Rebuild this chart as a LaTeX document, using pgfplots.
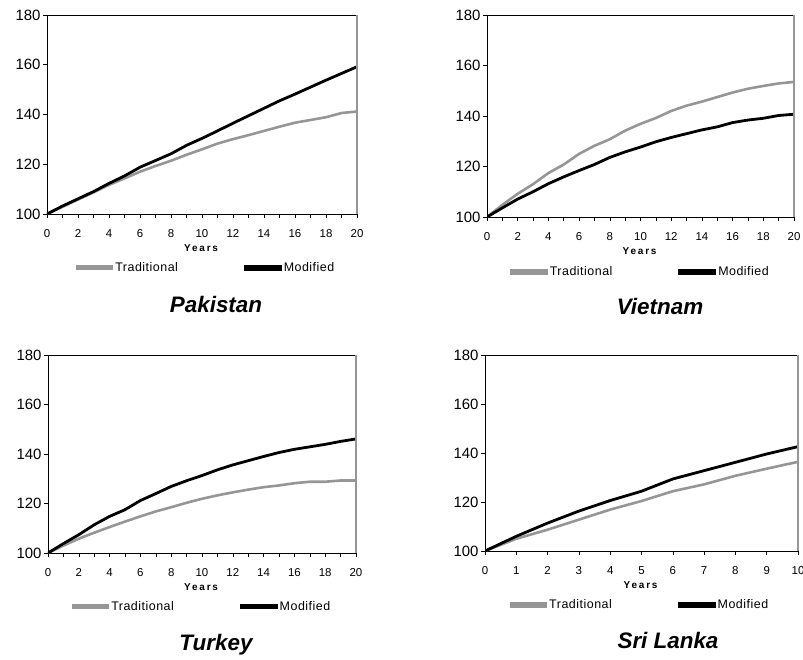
\documentclass[border=0pt]{standalone}
\usepackage{fontspec}
\setmainfont{Liberation Sans}
\usepackage{pgfplots}
\pgfplotsset{compat=1.18}

\definecolor{tradgray}{RGB}{150,150,150}

\pgfplotsset{
  panel/.style={
    scale only axis,
    width=310bp, height=199bp,
    xmin=0, xmax=20, ymin=100, ymax=180,
    ytick={100,120,...,180},
    xtick={0,2,...,20},
    minor xtick={1,3,...,19},
    tick align=outside,
    major tick length=4bp, minor tick length=4bp,
    tick style={black, line width=0.6bp},
    axis line style={line width=0.8bp},
    axis x line*=bottom, axis y line*=left,
    /pgf/number format/assume math mode=true,
    yticklabel style={font=\fontsize{15}{15}\selectfont, xshift=1bp},
    xticklabel style={font=\fontsize{11.5}{11.5}\selectfont, yshift=-8bp},
    xlabel={\addfontfeature{LetterSpace=18}\textbf{Years}},
    xlabel style={font=\fontsize{10}{10}\selectfont, at={(axis description cs:0.5,0)}, anchor=center, yshift=-34bp},
    legend columns=2,
    legend style={draw=none, fill=none, font=\fontsize{12.5}{12.5}\selectfont\addfontfeature{LetterSpace=4},
      /tikz/every even column/.append style={column sep=64bp},
      /tikz/inner sep=0pt},
    after end axis/.code={
      \draw[black, line width=0.8bp] (rel axis cs:0,1) -- (rel axis cs:1,1);
      \draw[tradgray, line width=2bp] (rel axis cs:1,1) -- (rel axis cs:1,0);
    },
  },
  trad/.style={tradgray, line width=2.6bp, no marks,
    legend image code/.code={\fill[tradgray] (0bp,-1.4bp) rectangle (35bp,1.4bp);}},
  modi/.style={black, line width=2.8bp, no marks,
    legend image code/.code={\fill[black] (0bp,-1.5bp) rectangle (35bp,1.5bp);}},
}

\begin{document}
\begin{tikzpicture}
\path[use as bounding box] (0,0) rectangle (803bp,-660bp);

% Pakistan
\begin{axis}[panel, at={(47bp,-214bp)}, anchor=south west,
  legend style={at={(0.513,-0.27)}, anchor=center}]
\addplot[trad] coordinates {
 (0,100) (1,102.9) (2,105.8) (3,108.7) (4,111.7) (5,114.3) (6,117.0) (7,119.3)
 (8,121.4) (9,123.8) (10,126.0) (11,128.3) (12,130.1) (13,131.7) (14,133.4)
 (15,135.1) (16,136.7) (17,137.8) (18,138.9) (19,140.6) (20,141.2)};
\addlegendentry{Traditional}
\addplot[modi] coordinates {
 (0,100) (1,103.2) (2,106.1) (3,109.0) (4,112.3) (5,115.3) (6,118.8) (7,121.5)
 (8,124.2) (9,127.6) (10,130.4) (11,133.4) (12,136.5) (13,139.5) (14,142.5)
 (15,145.5) (16,148.2) (17,151.0) (18,153.8) (19,156.5) (20,159.2)};
\addlegendentry{Modified}
\end{axis}

% Vietnam
\begin{axis}[panel, at={(487bp,-217bp)}, anchor=south west, width=307bp, height=202bp,
  legend style={at={(0.50,-0.272)}, anchor=center}]
\addplot[trad] coordinates {
 (0,100) (1,104.8) (2,109.2) (3,113.0) (4,117.4) (5,120.8) (6,125.0) (7,128.2)
 (8,130.8) (9,134.2) (10,136.9) (11,139.2) (12,142.0) (13,144.1) (14,145.7)
 (15,147.5) (16,149.3) (17,150.8) (18,151.9) (19,152.9) (20,153.5)};
\addlegendentry{Traditional}
\addplot[modi] coordinates {
 (0,100) (1,103.6) (2,107.1) (3,110.0) (4,113.2) (5,115.9) (6,118.4) (7,120.8)
 (8,123.6) (9,125.8) (10,127.7) (11,129.8) (12,131.5) (13,133.0) (14,134.5)
 (15,135.7) (16,137.4) (17,138.4) (18,139.1) (19,140.2) (20,140.7)};
\addlegendentry{Modified}
\end{axis}

% Turkey
\begin{axis}[panel, at={(48bp,-553bp)}, anchor=south west, width=308bp, height=198bp,
  legend style={at={(0.50,-0.27)}, anchor=center}]
\addplot[trad] coordinates {
 (0,100) (1,103.0) (2,105.8) (3,108.2) (4,110.5) (5,112.7) (6,114.8) (7,116.8)
 (8,118.5) (9,120.3) (10,121.9) (11,123.3) (12,124.5) (13,125.6) (14,126.6)
 (15,127.3) (16,128.2) (17,128.8) (18,128.8) (19,129.3) (20,129.3)};
\addlegendentry{Traditional}
\addplot[modi] coordinates {
 (0,100) (1,103.8) (2,107.4) (3,111.4) (4,114.8) (5,117.5) (6,121.2) (7,124.0)
 (8,126.9) (9,129.2) (10,131.3) (11,133.6) (12,135.6) (13,137.3) (14,139.0)
 (15,140.6) (16,141.9) (17,142.9) (18,143.9) (19,145.1) (20,146.1)};
\addlegendentry{Modified}
\end{axis}

% Sri Lanka
\begin{axis}[panel, at={(485bp,-551bp)}, anchor=south west, width=313bp, height=196bp,
  xmax=10, xtick={0,1,...,10}, minor xtick={},
  legend style={at={(0.495,-0.275)}, anchor=center}]
\addplot[trad] coordinates {
 (0,100) (1,105.0) (2,108.7) (3,112.8) (4,116.9) (5,120.4) (6,124.4) (7,127.2)
 (8,130.7) (9,133.6) (10,136.4)};
\addlegendentry{Traditional}
\addplot[modi] coordinates {
 (0,100) (1,106.0) (2,111.4) (3,116.3) (4,120.6) (5,124.4) (6,129.4) (7,132.8)
 (8,136.2) (9,139.6) (10,142.6)};
\addlegendentry{Modified}
\end{axis}

\begin{scope}[every node/.style={font=\fontsize{22.5}{22.5}\selectfont\bfseries\itshape}]
\node at (216bp,-304bp) {Pakistan};
\node at (660bp,-306bp) {Vietnam};
\node at (216bp,-645bp) {Turkey};
\node at (668bp,-640bp) {Sri Lanka};
\end{scope}
\end{tikzpicture}
\end{document}
